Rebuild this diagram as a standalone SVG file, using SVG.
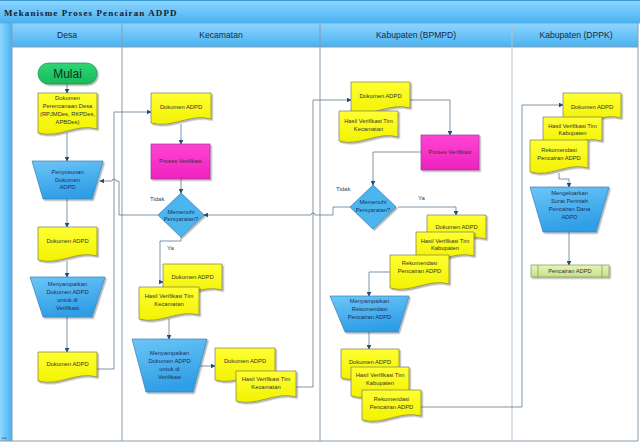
<svg xmlns="http://www.w3.org/2000/svg" width="640" height="443" viewBox="0 0 640 443">
<defs>
<linearGradient id="hdr" x1="0" y1="0" x2="0" y2="1"><stop offset="0" stop-color="#8dd6ff"/><stop offset="1" stop-color="#4ab2f0"/></linearGradient>
<linearGradient id="strip" x1="0" y1="0" x2="1" y2="0"><stop offset="0" stop-color="#8dd6ff"/><stop offset="1" stop-color="#4ab2f0"/></linearGradient>
<linearGradient id="yel" x1="0" y1="0" x2="0" y2="1"><stop offset="0" stop-color="#ffff33"/><stop offset="1" stop-color="#f2f200"/></linearGradient>
<linearGradient id="blu" x1="0" y1="0" x2="0.3" y2="1"><stop offset="0" stop-color="#6cc6f7"/><stop offset="1" stop-color="#2f9ee6"/></linearGradient>
<linearGradient id="mag" x1="0" y1="0" x2="0" y2="1"><stop offset="0" stop-color="#ff44d4"/><stop offset="1" stop-color="#ee22c0"/></linearGradient>
<linearGradient id="grn" x1="0" y1="0" x2="0" y2="1"><stop offset="0" stop-color="#2ed676"/><stop offset="1" stop-color="#18bb5a"/></linearGradient>
<linearGradient id="pp" x1="0" y1="0" x2="0" y2="1"><stop offset="0" stop-color="#e8f4b8"/><stop offset="1" stop-color="#c6e08a"/></linearGradient>
<filter id="sh" x="-10%" y="-10%" width="130%" height="130%"><feDropShadow dx="1.5" dy="1.5" stdDeviation="0.7" flood-color="#000" flood-opacity="0.3"/></filter>
<marker id="ah" viewBox="0 0 8 8" refX="7" refY="4" markerWidth="5" markerHeight="5" orient="auto" markerUnits="userSpaceOnUse"><path d="M0,0 L8,4 L0,8 Z" fill="#1f4e79"/></marker>
<style>
.lane{fill:none;stroke:#8a9cae;stroke-width:1}
.doc{fill:url(#yel);stroke:#7d7d52;stroke-width:0.7;filter:url(#sh)}
.trap{fill:url(#blu);stroke:#3a80b4;stroke-width:0.7;filter:url(#sh)}
.dia{fill:#4cb6ee;stroke:#2f7fb5;stroke-width:0.7;filter:url(#sh)}
.proc{fill:url(#mag);stroke:#9a3a8a;stroke-width:0.7;filter:url(#sh)}
.c{fill:none;stroke:#5f7890;stroke-width:0.8;marker-end:url(#ah)}
.cn{fill:none;stroke:#5f7890;stroke-width:0.8}
text{font-family:"Liberation Sans",Arial,sans-serif;font-size:5.8px;fill:#333;text-anchor:middle}
.bt{fill:#1c2e5c}
.lbl{text-anchor:start;font-size:6px;fill:#444}
.hd{font-size:8.6px;fill:#1a2a40}
</style>
</defs>
<rect x="0" y="0" width="640" height="443" fill="#ffffff"/>
<g id="frame">
<rect x="0" y="0" width="640" height="23" fill="url(#hdr)"/>
<line x1="0" y1="0.5" x2="640" y2="0.5" stroke="#3a9ad6"/>
<text x="4" y="16" style="font-family:'Liberation Serif',serif;font-size:9px;font-weight:bold;text-anchor:start;letter-spacing:1.1px;fill:#1a2030">Mekanisme Proses Pencairan ADPD</text>
<rect x="0" y="23" width="12" height="418" fill="url(#strip)"/>
<rect x="12" y="23" width="626" height="24" fill="url(#hdr)"/>
<line x1="0" y1="23" x2="640" y2="23" stroke="#5aa9d9" stroke-width="0.8"/>
<line x1="12" y1="47" x2="638" y2="47" stroke="#8a9cae"/>
<line class="lane" x1="12" y1="23" x2="12" y2="441"/>
<line class="lane" x1="122" y1="23" x2="122" y2="441"/>
<line class="lane" x1="320" y1="23" x2="320" y2="441"/>
<line x1="512" y1="23" x2="512" y2="441" stroke="#b8c2cc" stroke-width="1"/>
<line class="lane" x1="638" y1="23" x2="638" y2="441"/>
<line class="lane" x1="0" y1="441" x2="638" y2="441"/>
<text x="6" y="438" transform="rotate(-90 6 438)" style="font-size:5px;fill:#333">1</text>
<text class="hd" x="67" y="38">Desa</text>
<text class="hd" x="221" y="38">Kecamatan</text>
<text class="hd" x="416" y="38">Kabupaten (BPMPD)</text>
<text class="hd" x="576" y="38">Kabupaten (DPPK)</text>
</g>
<g id="connectors">
<path class="c" d="M67,84 V93"/>
<path class="c" d="M67,133 V161"/>
<path class="c" d="M67,199 V227"/>
<path class="c" d="M67,261 V277"/>
<path class="c" d="M67,317 V352"/>
<path class="c" d="M97,369 H114 V112 H151"/>
<path class="c" d="M181,124 V144"/>
<path class="c" d="M181,179 V193"/>
<path class="c" d="M158,215 H119 V181 H116 A2,2 0 0 0 112,181 H100"/>
<path class="c" d="M181,237 V241 H160 V282 H163"/>
<path class="c" d="M169,319 V339"/>
<path class="c" d="M200,366 H215"/>
<path class="c" d="M296,387 H313 V100 H351"/>
<path class="c" d="M410,100 H450 V135"/>
<path class="c" d="M421,152 H373 V185"/>
<path class="c" d="M352,207 H333 V215 H315 A2,2 0 0 0 311,215 H204"/>
<path class="c" d="M398,207 H456 V215"/>
<path class="c" d="M390,272 H369 V296"/>
<path class="c" d="M369,332 V349"/>
<path class="c" d="M421,407 H522 V105 H563"/>
<path class="c" d="M559,173 V179 H569 V187"/>
<path class="c" d="M569,232 V265"/>
<text class="lbl" x="150" y="201">Tidak</text>
<text class="lbl" x="167" y="250">Ya</text>
<text class="lbl" x="336" y="191">Tidak</text>
<text class="lbl" x="418" y="200">Ya</text>
</g>
<g id="mulai">
<rect x="38" y="63" width="59" height="21" rx="10.5" fill="url(#grn)" stroke="#1e8a4c" stroke-width="0.7" filter="url(#sh)"/>
<text x="67.5" y="78" style="font-size:12px;fill:#10301c">Mulai</text>
</g>
<g id="dok-perencanaan">
<path class="doc" d="M38,93 H97 V129 C76.4,123 58.7,139 38,133 Z"/>
<text x="67.5" y="100">Dokumen</text>
<text x="67.5" y="108">Perencanaan Desa</text>
<text x="67.5" y="116">(RPJMDes, RKPDes,</text>
<text x="67.5" y="124">APBDes)</text>
</g>
<g id="penyusunan">
<path class="trap" d="M32,161 H103 L92,199 H43 Z"/>
<text class="bt" x="67.5" y="174">Penyusunan</text>
<text class="bt" x="67.5" y="182">Dokumen</text>
<text class="bt" x="67.5" y="189">ADPD</text>
</g>
<g id="dok-adpd-desa-1">
<path class="doc" d="M38,227 H97 V256 C76.4,250 58.7,266 38,260 Z"/>
<text x="67.5" y="243">Dokumen ADPD</text>
</g>
<g id="menyampaikan-desa">
<path class="trap" d="M30,277 H105 L92,317 H43 Z"/>
<text class="bt" x="67.5" y="286">Menyampaikan</text>
<text class="bt" x="67.5" y="294">Dokumen ADPD</text>
<text class="bt" x="67.5" y="302">untuk di</text>
<text class="bt" x="67.5" y="310">Verifikasi</text>
</g>
<g id="dok-adpd-desa-2">
<path class="doc" d="M38,352 H97 V377 C76.4,371 58.7,387 38,381 Z"/>
<text x="67.5" y="366">Dokumen ADPD</text>
</g>
<g id="dok-adpd-kec">
<path class="doc" d="M151,93 H211 V119 C190,113 172,129 151,123 Z"/>
<text x="181" y="109">Dokumen ADPD</text>
</g>
<g id="proses-kec">
<rect class="proc" x="151" y="144" width="59" height="35"/>
<text x="180.5" y="163">Proses Verifikasi</text>
</g>
<g id="memenuhi-kec">
<path class="dia" d="M181,193 L204,215 L181,237 L158,215 Z"/>
<text class="bt" x="181" y="214">Memenuhi</text>
<text class="bt" x="181" y="221">Persyaratan?</text>
</g>
<g id="hasil-kec-1">
<path class="doc" d="M163,264 H222 V290 C201.4,284 183.7,300 163,294 Z"/>
<text x="192.5" y="279">Dokumen ADPD</text>
<path class="doc" d="M139,287 H199 V315 C178,309 160,325 139,319 Z"/>
<text x="169" y="298">Hasil Verifikasi Tim</text>
<text x="169" y="306">Kecamatan</text>
</g>
<g id="menyampaikan-kec">
<path class="trap" d="M132,339 H207 L193,392 H146 Z"/>
<text class="bt" x="169.5" y="355">Menyampaikan</text>
<text class="bt" x="169.5" y="363">Dokumen ADPD</text>
<text class="bt" x="169.5" y="371">untuk di</text>
<text class="bt" x="169.5" y="379">Verifikasi</text>
</g>
<g id="hasil-kec-2">
<path class="doc" d="M215,348 H275 V376 C254,370 236,386 215,380 Z"/>
<text x="245" y="363">Dokumen ADPD</text>
<path class="doc" d="M236,371 H296 V397 C275,391 257,407 236,401 Z"/>
<text x="266" y="381">Hasil Verifikasi Tim</text>
<text x="266" y="389">Kecamatan</text>
</g>
<g id="dok-bpmpd-1">
<path class="doc" d="M351,82 H410 V108 C389.4,102 371.7,118 351,112 Z"/>
<text x="380.5" y="98">Dokumen ADPD</text>
<path class="doc" d="M339,111 H398 V137 C377.4,131 359.7,147 339,141 Z"/>
<text x="368.5" y="123">Hasil Verifikasi Tim</text>
<text x="368.5" y="131">Kecamatan</text>
</g>
<g id="proses-bpmpd">
<rect class="proc" x="421" y="135" width="58" height="35"/>
<text x="450" y="154">Proses Verifikasi</text>
</g>
<g id="memenuhi-bpmpd">
<path class="dia" d="M373,185 L396,207 L373,229 L350,207 Z"/>
<text class="bt" x="373" y="204">Memenuhi</text>
<text class="bt" x="373" y="212">Persyaratan?</text>
</g>
<g id="dok-bpmpd-2">
<path class="doc" d="M427,215 H486 V239 C465.4,233 447.7,249 427,243 Z"/>
<text x="456.5" y="229">Dokumen ADPD</text>
<path class="doc" d="M416,232 H474 V256 C453.7,250 436.3,266 416,260 Z"/>
<text x="445" y="243">Hasil Verifikasi Tim</text>
<text x="445" y="250">Kabupaten</text>
<path class="doc" d="M390,255 H449 V284 C428.4,278 410.7,294 390,288 Z"/>
<text x="419.5" y="265">Rekomendasi</text>
<text x="419.5" y="273">Pencairan ADPD</text>
</g>
<g id="menyampaikan-bpmpd">
<path class="trap" d="M330,296 H409 L398,332 H345 Z"/>
<text class="bt" x="369.5" y="303">Menyampaikan</text>
<text class="bt" x="369.5" y="311">Rekomendasi</text>
<text class="bt" x="369.5" y="319">Pencairan ADPD</text>
</g>
<g id="dok-bpmpd-3">
<path class="doc" d="M341,349 H399 V374 C378.7,368 361.3,384 341,378 Z"/>
<text x="370" y="364">Dokumen ADPD</text>
<path class="doc" d="M351,367 H409 V392 C388.7,386 371.3,402 351,396 Z"/>
<text x="380" y="377">Hasil Verifikasi Tim</text>
<text x="380" y="385">Kabupaten</text>
<path class="doc" d="M362,390 H421 V416 C400.4,410 382.7,426 362,420 Z"/>
<text x="391.5" y="401">Rekomendasi</text>
<text x="391.5" y="409">Pencairan ADPD</text>
</g>
<g id="dok-dppk">
<path class="doc" d="M563,93 H621 V118 C600.7,112 583.3,128 563,122 Z"/>
<text x="592" y="109">Dokumen ADPD</text>
<path class="doc" d="M543,117 H602 V141 C581.4,135 563.7,151 543,145 Z"/>
<text x="572.5" y="128">Hasil Verifikasi Tim</text>
<text x="572.5" y="135">Kabupaten</text>
<path class="doc" d="M530,140 H588 V168 C567.7,162 550.3,178 530,172 Z"/>
<text x="559" y="152">Rekomendasi</text>
<text x="559" y="160">Pencairan ADPD</text>
</g>
<g id="mengeluarkan">
<path class="trap" d="M530,187 H609 L596,232 H543 Z"/>
<text class="bt" x="569.5" y="195">Mengeluarkan</text>
<text class="bt" x="569.5" y="203">Surat Perintah</text>
<text class="bt" x="569.5" y="211">Pencairan Dana</text>
<text class="bt" x="569.5" y="219">ADPD</text>
</g>
<g id="pencairan">
<rect x="531" y="265" width="78" height="12" fill="url(#pp)" stroke="#7a9a50" stroke-width="0.7" filter="url(#sh)"/>
<line x1="538" y1="265" x2="538" y2="277" stroke="#7a9a50" stroke-width="0.7"/>
<line x1="602" y1="265" x2="602" y2="277" stroke="#7a9a50" stroke-width="0.7"/>
<text x="570" y="273">Pencairan ADPD</text>
</g>
</svg>
